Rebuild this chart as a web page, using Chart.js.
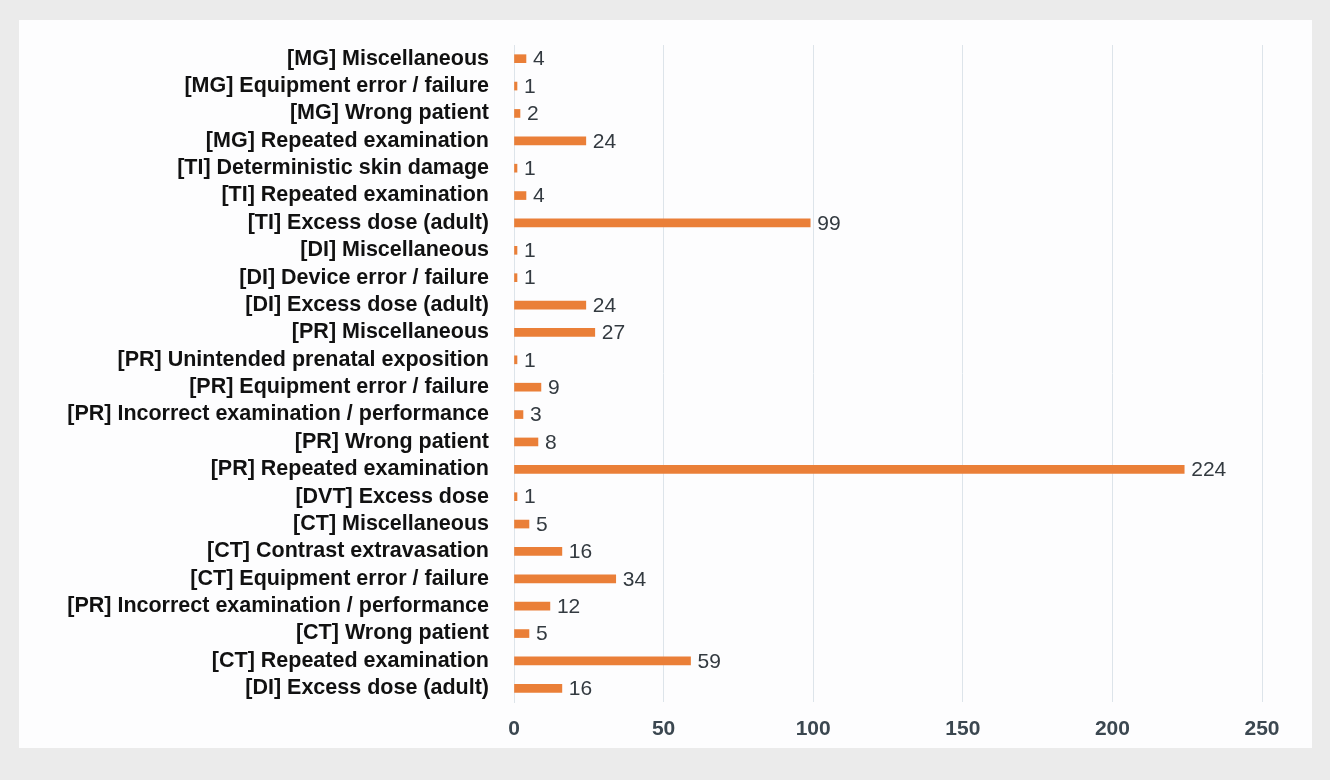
<!DOCTYPE html>
<html>
<head>
<meta charset="utf-8">
<script src="https://cdn.jsdelivr.net/npm/chart.js@4"></script>
<style>
  html, body { margin: 0; padding: 0; background: #ebebeb; }
  #box { position: absolute; left: 19px; top: 20px; width: 1293px; height: 728px; background: #fdfdfe; }
  canvas { display: block; }
</style>
</head>
<body>
<div id="box"><canvas id="incidentChart" width="1293" height="728"></canvas></div>
<script>
const categories = [
    "[MG] Miscellaneous",
    "[MG] Equipment error / failure",
    "[MG] Wrong patient",
    "[MG] Repeated examination",
    "[TI] Deterministic skin damage",
    "[TI] Repeated examination",
    "[TI] Excess dose (adult)",
    "[DI] Miscellaneous",
    "[DI] Device error / failure",
    "[DI] Excess dose (adult)",
    "[PR] Miscellaneous",
    "[PR] Unintended prenatal exposition",
    "[PR] Equipment error / failure",
    "[PR] Incorrect examination / performance",
    "[PR] Wrong patient",
    "[PR] Repeated examination",
    "[DVT] Excess dose",
    "[CT] Miscellaneous",
    "[CT] Contrast extravasation",
    "[CT] Equipment error / failure",
    "[PR] Incorrect examination / performance",
    "[CT] Wrong patient",
    "[CT] Repeated examination",
    "[DI] Excess dose (adult)"
];
const counts = [4, 1, 2, 24, 1, 4, 99, 1, 1, 24, 27, 1, 9, 3, 8, 224, 1, 5, 16, 34, 12, 5, 59, 16];
const xTicks = [0, 50, 100, 150, 200, 250];

const FONT = "'Liberation Sans', Arial, sans-serif";

// value labels next to each bar
const valueLabels = {
    id: "valueLabels",
    afterDatasetsDraw(chart) {
        const ctx = chart.ctx;
        const meta = chart.getDatasetMeta(0);
        ctx.save();
        ctx.font = "21px " + FONT;
        ctx.fillStyle = "#333a40";
        ctx.textAlign = "left";
        ctx.textBaseline = "middle";
        meta.data.forEach((bar, i) => {
            ctx.fillText(String(counts[i]), bar.x + 7, bar.y + 1);
        });
        ctx.restore();
    }
};

const ctx = document.getElementById("incidentChart").getContext("2d");
new Chart(ctx, {
    type: "bar",
    data: {
        labels: categories,
        datasets: [{
            data: counts,
            backgroundColor: "#ea7f38",
            barThickness: 8,
            borderWidth: 0
        }]
    },
    options: {
        indexAxis: "y",
        responsive: false,
        animation: false,
        layout: { padding: { left: 0, right: 50, top: 25, bottom: 0 } },
        plugins: {
            legend: { display: false },
            tooltip: { enabled: false }
        },
        scales: {
            x: {
                min: 0,
                max: 250,
                afterBuildTicks: (scale) => { scale.ticks = xTicks.map(v => ({ value: v })); },
                afterFit: (scale) => { scale.height = 46; },
                grid: { color: "#dde4ea", lineWidth: 1, drawTicks: false },
                border: { display: false },
                ticks: {
                    padding: 15,
                    color: "#3b4750",
                    font: { family: FONT, size: 21, weight: "bold" }
                }
            },
            y: {
                afterFit: (scale) => {
                    scale.width = 495;
                    scale.paddingTop = 0;
                    scale.paddingBottom = 0;
                },
                grid: { display: false, drawTicks: false },
                border: { display: true, color: "#dde4ea" },
                ticks: {
                    padding: 25,
                    autoSkip: false,
                    color: "#111111",
                    font: { family: FONT, size: 21.5, weight: "bold" }
                }
            }
        }
    },
    plugins: [valueLabels]
});
</script>
</body>
</html>
